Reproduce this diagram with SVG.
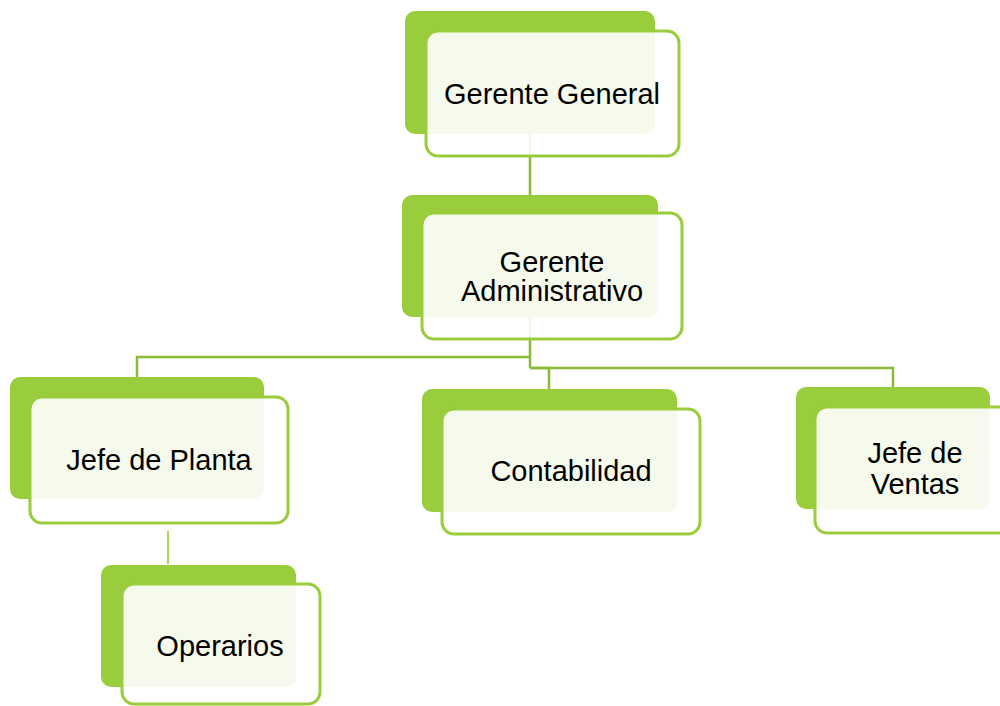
<svg xmlns="http://www.w3.org/2000/svg" width="1000" height="706" viewBox="0 0 1000 706">
  <style>
    .back { fill: #9acd3c; }
    .front { fill: #ffffff; fill-opacity: 0.9; stroke: #9acd3c; stroke-width: 3; }
    .link { fill: none; stroke: #88bb36; stroke-width: 2.5; }
    .link-light { fill: none; stroke: #a6d64e; stroke-width: 2; }
    .label { font-family: "Liberation Sans", Arial, sans-serif; font-size: 29px; fill: #000000; text-anchor: middle; }
  </style>
  <rect width="1000" height="706" fill="#ffffff"/>

  <!-- connectors -->
  <g id="connectors">
    <path class="link" d="M530 134 V195"/>
    <path class="link" d="M530 317 V368"/>
    <path class="link" d="M530 357 H137 V377"/>
    <path class="link" d="M530 368 H893 V387"/>
    <path class="link" d="M530 368 H549 V389"/>
    <path class="link-light" d="M168 531 V564"/>
  </g>

  <g id="gerente-general">
    <rect class="back" x="405" y="11" width="250" height="123" rx="10"/>
    <rect class="front" x="426" y="31" width="253" height="125" rx="12"/>
    <text class="label" x="552" y="104">Gerente General</text>
  </g>

  <g id="gerente-administrativo">
    <rect class="back" x="402" y="195" width="256" height="122" rx="10"/>
    <rect class="front" x="422" y="213" width="260" height="126" rx="12"/>
    <text class="label" x="552" y="272">Gerente</text>
    <text class="label" x="552" y="301">Administrativo</text>
  </g>

  <g id="jefe-de-planta">
    <rect class="back" x="10" y="377" width="254" height="122" rx="10"/>
    <rect class="front" x="30" y="397" width="258" height="126" rx="12"/>
    <text class="label" x="159" y="470">Jefe de Planta</text>
  </g>

  <g id="operarios">
    <rect class="back" x="101" y="565" width="195" height="122" rx="10"/>
    <rect class="front" x="122" y="584" width="198" height="120" rx="12"/>
    <text class="label" x="220" y="656">Operarios</text>
  </g>

  <g id="contabilidad">
    <rect class="back" x="422" y="389" width="255" height="123" rx="10"/>
    <rect class="front" x="442" y="409" width="258" height="125" rx="12"/>
    <text class="label" x="571" y="481">Contabilidad</text>
  </g>

  <g id="jefe-de-ventas">
    <rect class="back" x="796" y="387" width="194" height="122" rx="10"/>
    <rect class="front" x="815" y="407" width="220" height="126" rx="12"/>
    <text class="label" x="915" y="463">Jefe de</text>
    <text class="label" x="915" y="494">Ventas</text>
  </g>
</svg>
